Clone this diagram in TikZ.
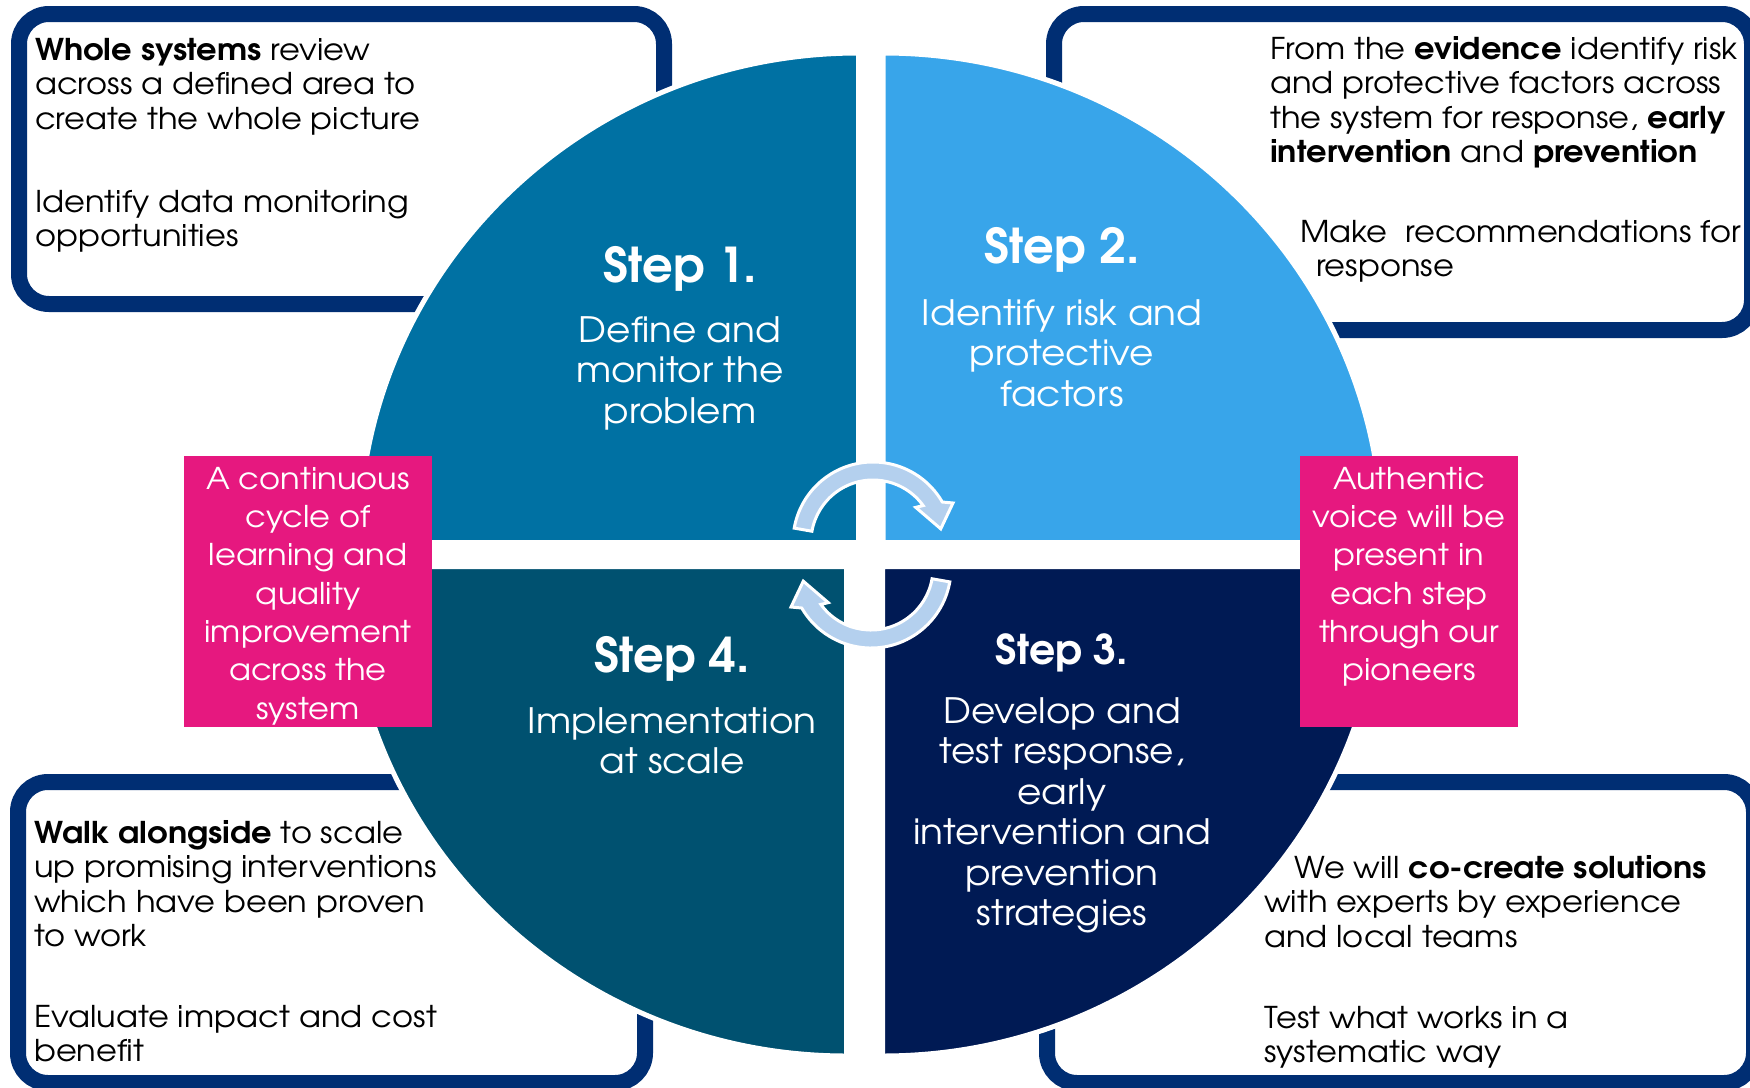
\documentclass[tikz,border=0pt]{standalone}
\usepackage{fontspec}
\setmainfont{TeX Gyre Adventor}[FakeStretch=1.07]
\newfontfamily\plainadv{TeX Gyre Adventor}
\usetikzlibrary{calc}
\definecolor{qtl}{HTML}{0071A3}
\definecolor{qtr}{HTML}{38A5EA}
\definecolor{qbl}{HTML}{005170}
\definecolor{qbr}{HTML}{001A54}
\definecolor{pinkc}{HTML}{E6187F}
\definecolor{boxnavy}{HTML}{002E73}
\definecolor{arrowc}{HTML}{B4D0EE}
\tikzset{
  cornerbox/.style={draw=boxnavy, line width=16pt, fill=white, rounded corners=30pt},
  quad/.style={draw=white, line width=5pt},
  pinkbox/.style={fill=pinkc, draw=none, inner sep=0pt},
  cbody/.style={font=\fontsize{30}{34.5}\selectfont, inner sep=0pt, align=left, anchor=north west, text=black},
  steptitle/.style={font=\plainadv\fontsize{48}{52}\selectfont\bfseries, inner sep=0pt, anchor=base, text=white},
  stepbody/.style={font=\fontsize{35}{40.5}\selectfont, inner sep=0pt, align=center, anchor=north, text=white},
  pinktext/.style={font=\fontsize{30}{38.3}\selectfont, inner sep=0pt, align=center, anchor=north, text=white},
  cyclearrow/.style={fill=arrowc, draw=white, line width=3pt, line join=miter},
}
\begin{document}
\begin{tikzpicture}[x=1pt, y=-1pt]
\useasboundingbox (0,0) rectangle (1750,1087);
\fill[white] (0,0) rectangle (1750,1087);

% corner boxes
\draw[cornerbox] (19,14) rectangle (664,304);
\draw[cornerbox] (1054,14) rectangle (1752,330);
\draw[cornerbox] (18,782) rectangle (645,1083);
\draw[cornerbox] (1047,782) rectangle (1754,1083);

% quadrants
\coordinate (ctl) at (858.5,542.5);
\coordinate (ctr) at (883,542.5);
\coordinate (cbl) at (846.5,566.5);
\coordinate (cbr) at (882.5,566.5);
\fill[qtl, quad] (ctl) -- ($(ctl)+(180:499.5 and 489.5)$) arc[start angle=180, end angle=270, x radius=499.5, y radius=489.5] -- cycle;
\fill[qtr, quad] (ctr) -- ($(ctr)+(270:499.5 and 489.5)$) arc[start angle=270, end angle=360, x radius=499.5, y radius=489.5] -- cycle;
\fill[qbr, quad] (cbr) -- ($(cbr)+(0:499.5 and 489.5)$) arc[start angle=0, end angle=90, x radius=499.5, y radius=489.5] -- cycle;
\fill[qbl, quad] (cbl) -- ($(cbl)+(90:499.5 and 489.5)$) arc[start angle=90, end angle=180, x radius=499.5, y radius=489.5] -- cycle;

% pink boxes
\node[pinkbox, minimum width=248pt, minimum height=271pt] (pl) at (308,591.5) {};
\node[pinkbox, minimum width=218pt, minimum height=271pt] (pr) at (1409,591.5) {};

% cycle arrows
\coordinate (c1) at (873,542);
\coordinate (c2) at (871,568);
\draw[cyclearrow] ($(c1)+(190:80)$) arc[start angle=190, end angle=330, radius=80]
  -- ($(c1)+(334:89)$) -- ($(c1)+(349:69)$) -- ($(c1)+(321:55)$) -- ($(c1)+(324:62)$)
  arc[start angle=324, end angle=190, radius=62] -- cycle;
\draw[cyclearrow] ($(c2)+(10:80)$) arc[start angle=10, end angle=150, radius=80]
  -- ($(c2)+(154:89)$) -- ($(c2)+(169:69)$) -- ($(c2)+(141:55)$) -- ($(c2)+(144:62)$)
  arc[start angle=144, end angle=10, radius=62] -- cycle;

% step texts
\node[steptitle] (s1t) at (680,282) {Step 1.};
\node[stepbody] (s1b) at (680,307) {\rule{0pt}{35pt}Define and\\monitor the\\problem};
\node[steptitle] (s2t) at (1062,263) {Step 2.};
\node[stepbody] (s2b) at (1062,290) {\rule{0pt}{35pt}Identify risk and\\protective\\factors};
\node[steptitle, font=\plainadv\fontsize{41}{45}\selectfont\bfseries] (s3t) at (1062,664) {Step 3.};
\node[stepbody] (s3b) at (1062,688) {\rule{0pt}{35pt}Develop and\\test response,\\early\\intervention and\\prevention\\strategies};
\node[steptitle] (s4t) at (672,672) {Step 4.};
\node[stepbody] (s4b) at (672,698) {\rule{0pt}{35pt}Implementation\\at scale};

% pink texts
\node[pinktext] (plt) at (308,459) {\rule{0pt}{30pt}A continuous\\cycle of\\learning and\\quality\\improvement\\across the\\system};
\node[pinktext] (prt) at (1409,459) {\rule{0pt}{30pt}Authentic\\voice will be\\present in\\each step\\through our\\pioneers};

% corner texts
\node[cbody] (tl1) at (35,30) {\rule{0pt}{30pt}\textbf{Whole systems} review\\across a defined area to\\create the whole picture};
\node[cbody] (tl2) at (35,182) {\rule{0pt}{30pt}Identify data monitoring\\opportunities};
\node[cbody] (tr1) at (1270,29) {\rule{0pt}{30pt}From the \textbf{evidence} identify risk\\and protective factors across\\the system for response, \textbf{early}\\\textbf{intervention} and \textbf{prevention}};
\node[cbody] (tr2) at (1300,212) {\rule{0pt}{30pt}Make\ \ recommendations for\\\hspace*{16pt}response};
\node[cbody] (bl1) at (34,813) {\rule{0pt}{30pt}\textbf{Walk alongside} to scale\\up promising interventions\\which have been proven\\to work};
\node[cbody] (bl2) at (34,997) {\rule{0pt}{30pt}Evaluate impact and cost\\benefit};
\node[cbody] (br1) at (1264,848) {\rule{0pt}{30pt}\hspace*{30pt}We will \textbf{co-create solutions}\\with experts by experience\\and local teams};
\node[cbody] (br2) at (1264,998) {\rule{0pt}{30pt}Test what works in a\\systematic way};
\end{tikzpicture}
\end{document}
